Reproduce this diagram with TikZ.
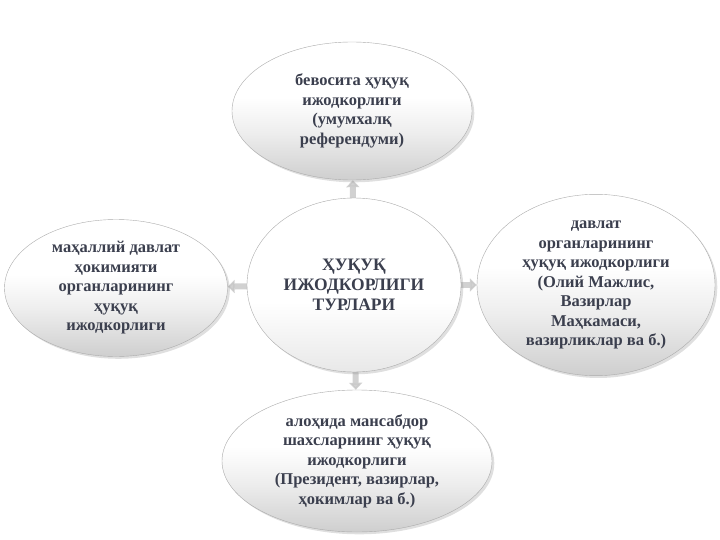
\documentclass[tikz,border=0pt]{standalone}
\usepackage{fontspec}
\setmainfont{Liberation Serif}
\usetikzlibrary{shapes.geometric,shadows,arrows.meta,backgrounds}

\definecolor{txt}{HTML}{3B3F4E}
\definecolor{rim}{HTML}{ABABAB}

% white on top, grey towards the lower rim
\pgfdeclareverticalshading{glossy}{100bp}{color(0bp)=(black!19); color(25bp)=(black!19);
  color(42bp)=(black!7); color(55bp)=(white); color(100bp)=(white)}
\pgfdeclareverticalshading{glossylight}{100bp}{color(0bp)=(black!9); color(25bp)=(black!9);
  color(45bp)=(white); color(100bp)=(white)}

\tikzset{
  bubble/.style={ellipse, draw=rim, thin, inner sep=0pt, align=center,
    shading=glossy, text=txt, font=\bfseries\fontsize{16.5}{19.5}\selectfont,
    drop shadow={opacity=0.25}},
  hub/.style={bubble, shading=glossylight, font=\bfseries\fontsize{17.5}{20}\selectfont},
  link/.style={-{Triangle[length=7pt,width=13pt]}, line width=6pt, gray!45, opacity=0.8}
}

\begin{document}
\begin{tikzpicture}[x=1pt, y=-1pt]
\useasboundingbox (0,0) rectangle (720,540);

% centre and the four kinds round it
\node[hub, minimum width=214pt, minimum height=174pt] (turlar) at (354,285)
  {ҲУҚУҚ\\ИЖОДКОРЛИГИ\\ТУРЛАРИ};
\node[bubble, minimum width=240pt, minimum height=138pt] (bevosita) at (352,111)
  {бевосита ҳуқуқ\\ижодкорлиги\\(умумхалқ\\референдуми)};
\node[bubble, minimum width=238pt, minimum height=164pt] (davlat) at (596,285)
  {давлат\\органларининг\\ҳуқуқ ижодкорлиги\\(Олий Мажлис,\\Вазирлар\\Маҳкамаси,\\вазирликлар ва б.)};
\node[bubble, minimum width=270pt, minimum height=142pt] (shaxs) at (357,461)
  {алоҳида мансабдор\\шахсларнинг ҳуқуқ\\ижодкорлиги\\(Президент, вазирлар,\\ҳокимлар ва б.)};
\node[bubble, minimum width=223pt, minimum height=137pt] (mahalliy) at (116,288)
  {маҳаллий давлат\\ҳокимияти\\органларининг\\ҳуқуқ\\ижодкорлиги};

\begin{scope}[on background layer]
\draw[link] (turlar) -- (bevosita);
\draw[link] (turlar) -- (davlat);
\draw[link] (turlar) -- (shaxs);
\draw[link] (turlar) -- (mahalliy);
\end{scope}

\end{tikzpicture}
\end{document}
